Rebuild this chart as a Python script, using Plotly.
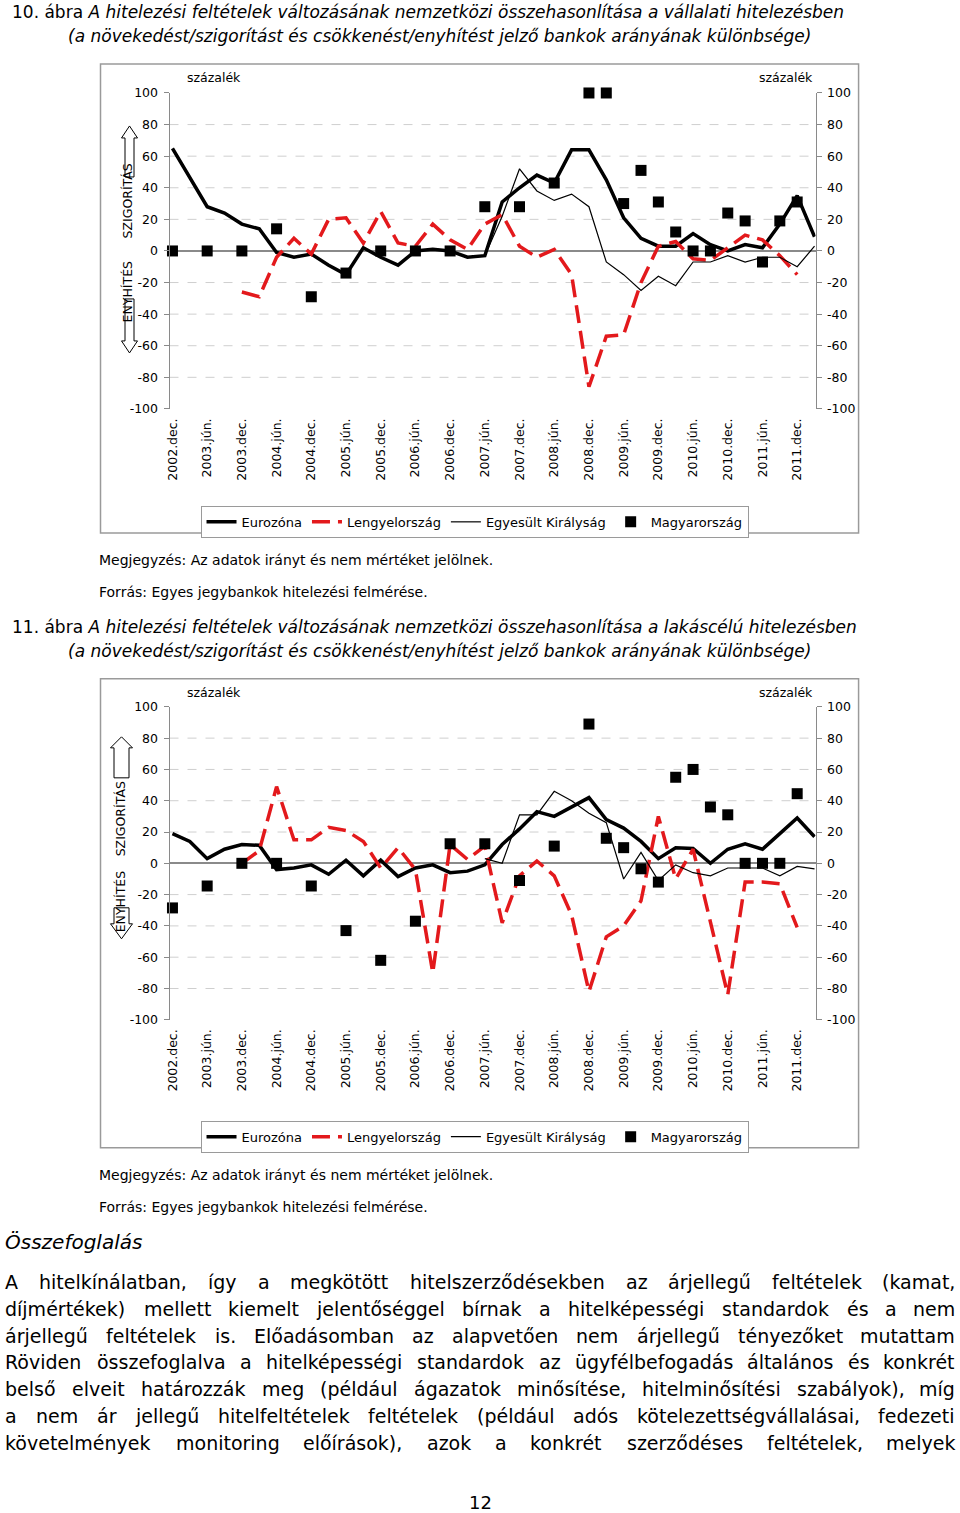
import plotly.graph_objects as go

W, H = 960, 1513

# small calibration of the page placement observed in the rendered picture
OX, SX = 4.5, 0.9947
OY, SY = 7.0, 0.9903


def px(x):
    return ((x - OX) / SX) / W


def py(y):
    return 1 - ((y - OY) / SY) / H


# ---------------- data ----------------
quarters = list(range(38))  # 2002.dec ... 2012.márc (quarterly)
tick_pos = [0, 2, 4, 6, 8, 10, 12, 14, 16, 18, 20, 22, 24, 26, 28, 30, 32, 34, 36]
tick_labels = ["2002.dec.", "2003.jún.", "2003.dec.", "2004.jún.", "2004.dec.",
               "2005.jún.", "2005.dec.", "2006.jún.", "2006.dec.", "2007.jún.",
               "2007.dec.", "2008.jún.", "2008.dec.", "2009.jún.", "2009.dec.",
               "2010.jún.", "2010.dec.", "2011.jún.", "2011.dec."]
y_ticks = [-100, -80, -60, -40, -20, 0, 20, 40, 60, 80, 100]
y_tick_text = ["-100", "-80", "-60", "-40", "-20", "0", "20", "40", "60", "80", "100"]
series_names = ["Eurozóna", "Lengyelország", "Egyesült Királyság", "Magyarország"]

# 10. ábra – vállalati hitelezés
ez1 = [65, 46, 28, 24, 17, 14, -1, -4, -2, -9, -15, 2, -4, -9, 0, 1, 0, -4, -3, 31,
       40, 48, 43, 64, 64, 45, 21, 8, 3, 3, 11, 4, 0, 4, 2, 17, 35, 9]
pl1 = [None, None, None, None, -26, -29, -4, 8, -2, 20, 21, 5, 25, 5, 3, 17, 7, 1, 17, 23,
       3, -4, 1, -15, -86, -54, -53, -20, 3, 6, -5, -6, 2, 10, 7, -3, -15, None]
uk1 = [None] * 18 + [-3, 22, 52, 38, 32, 36, 28, -7, -15, -25, -16, -22, -7, -7, -3, -7,
                     -4, -4, -10, 3]
hu1 = [0, None, 0, None, 0, None, 14, None, -29, None, -14, None, 0, None, 0, None, 0, None,
       28, None, 28, None, 43, None, 100, 100, 30, 51, 31, 12, 0, 0, 24, 19, -7, 19, 31, None]

# 11. ábra – lakáscélú hitelezés
ez2 = [19, 14, 3, 9, 12, 11.5, -4, -3, -1, -7, 2, -8, 2, -8.5, -3, -1, -6, -5, -1, 12,
       22, 33, 30, 36, 42, 28, 22.5, 14, 3, 10, 9.5, 0, 9, 12.5, 9, 19, 29, 17]
pl2 = [None, None, None, None, 0, 8, 49, 15, 15, 23, 21, 14, -3, 10, -4, -70, 12, 2.5, 11,
       -38, -8, 1.5, -8, -33, -82, -47, -40, -24, 30, -10, 9, -37, -84, -12, -12, -13, -41, None]
uk2 = [None] * 18 + [3, 0, 31, 31, 46, 40, 32, 26, -10, 7, -11, -1, -6, -8, -3, -3, -3,
                     -8, -2, -3.5]
hu2 = [-28.5, None, -14.5, None, 0, None, 0, None, -14.5, None, -43, None, -62, None, -37, None,
       12.5, None, 12.5, None, -11, None, 11, None, 89, 16, 10, -3.5, -12, 55, 60, 36, 31,
       0, 0, 0, 44.5, None]

FONT = "DejaVu Sans"
GRID_COLOR = "#cfcfcf"
AXIS_COLOR = "#8a8a8a"
RED = "#E3191C"

fig = go.Figure()

charts = [
    dict(ez=ez1, pl=pl1, uk=uk1, hu=hu1, top=92, bottom=408, box=(63, 532),
         xa="x", ya="y", ya2="y2", legend="legend", legend_y=505,
         arrows=dict(cx=129, up=(125, 137, 176), down=(298, 340, 352), hw=8, sw=4.5),
         txt=dict(x=127, szig=200, enyh=291), szaz_y=77),
    dict(ez=ez2, pl=pl2, uk=uk2, hu=hu2, top=706, bottom=1019, box=(678, 1147),
         xa="x2", ya="y3", ya2="y4", legend="legend2", legend_y=1120,
         arrows=dict(cx=121, up=(736, 747, 777), down=(907, 923, 938), hw=11, sw=7.5),
         txt=dict(x=120, szig=818, enyh=901), szaz_y=692),
]

shapes = []
annotations = []

for c in charts:
    fig.add_trace(go.Scatter(x=quarters, y=c["ez"], mode="lines", name=series_names[0],
                             line=dict(color="black", width=3.5), xaxis=c["xa"], yaxis=c["ya"],
                             legend=c["legend"], connectgaps=False))
    fig.add_trace(go.Scatter(x=quarters, y=c["pl"], mode="lines", name=series_names[1],
                             line=dict(color=RED, width=3.5, dash="18px,8px"),
                             xaxis=c["xa"], yaxis=c["ya"], legend=c["legend"], connectgaps=False))
    fig.add_trace(go.Scatter(x=quarters, y=c["uk"], mode="lines", name=series_names[2],
                             line=dict(color="black", width=1.2), xaxis=c["xa"], yaxis=c["ya"],
                             legend=c["legend"], connectgaps=False))
    fig.add_trace(go.Scatter(x=quarters, y=c["hu"], mode="markers", name=series_names[3],
                             marker=dict(symbol="square", size=11, color="black"),
                             cliponaxis=False,
                             xaxis=c["xa"], yaxis=c["ya"], legend=c["legend"]))
    # invisible trace for the right-hand axis
    fig.add_trace(go.Scatter(x=[0], y=[0], mode="markers", marker=dict(opacity=0),
                             xaxis=c["xa"], yaxis=c["ya2"], showlegend=False, hoverinfo="skip"))

    # dashed grid lines
    yref = c["ya"]
    for v in [-80, -60, -40, -20, 20, 40, 60, 80]:
        shapes.append(dict(type="line", xref=f"{c['xa']} domain", x0=0, x1=1, yref=yref,
                           y0=v, y1=v, line=dict(color=GRID_COLOR, width=1, dash="dash"),
                           layer="below"))
    # outer chart frame
    b0, b1 = c["box"]
    shapes.append(dict(type="rect", xref="paper", yref="paper", x0=px(100), x1=px(858),
                       y0=py(b1), y1=py(b0), line=dict(color="#9a9a9a", width=1.5),
                       layer="below"))
    # arrows
    a = c["arrows"]
    cx, hw, sw = a["cx"], a["hw"], a["sw"]
    t, hb, sb = a["up"]
    pts = [(cx, t), (cx + hw, hb), (cx + sw, hb), (cx + sw, sb), (cx - sw, sb),
           (cx - sw, hb), (cx - hw, hb)]
    path = "M " + " L ".join(f"{px(x):.5f},{py(y):.5f}" for x, y in pts) + " Z"
    shapes.append(dict(type="path", xref="paper", yref="paper", path=path,
                       fillcolor="white", line=dict(color="black", width=1)))
    st, hb, tip = a["down"]
    pts = [(cx - sw, st), (cx + sw, st), (cx + sw, hb), (cx + hw, hb), (cx, tip),
           (cx - hw, hb), (cx - sw, hb)]
    path = "M " + " L ".join(f"{px(x):.5f},{py(y):.5f}" for x, y in pts) + " Z"
    shapes.append(dict(type="path", xref="paper", yref="paper", path=path,
                       fillcolor="white", line=dict(color="black", width=1)))
    tx = c["txt"]
    for label, yy in (("SZIGORÍTÁS", tx["szig"]), ("ENYHÍTÉS", tx["enyh"])):
        annotations.append(dict(text=label, x=px(tx["x"]), y=py(yy), xref="paper",
                                yref="paper", showarrow=False, textangle=-90,
                                xanchor="center", yanchor="middle",
                                font=dict(family=FONT, size=12.5, color="black")))
    for sx in (213, 785):
        annotations.append(dict(text="százalék", x=px(sx), y=py(c["szaz_y"]), xref="paper",
                                yref="paper", showarrow=False, xanchor="center",
                                yanchor="middle",
                                font=dict(family=FONT, size=12.5, color="black")))

# axes
common_y = dict(range=[-100, 100], tickmode="array", tickvals=y_ticks, ticktext=y_tick_text,
                showgrid=False, showline=True, linecolor=AXIS_COLOR, linewidth=1,
                ticks="outside", ticklen=5, tickcolor=AXIS_COLOR, ticklabelstandoff=3,
                tickfont=dict(family=FONT, size=12.5, color="black"), fixedrange=True)
common_x = dict(range=[-0.17, 37.06], tickmode="array", tickvals=tick_pos,
                ticktext=tick_labels, tickangle=-90, showgrid=False, zeroline=False,
                showline=False, ticks="", ticklabelstandoff=6,
                tickfont=dict(family=FONT, size=12.5, color="black"), fixedrange=True)

c1, c2 = charts
fig.update_layout(
    xaxis=dict(common_x, domain=[px(169), px(815)], anchor="y"),
    yaxis=dict(common_y, domain=[py(c1["bottom"]), py(c1["top"])], anchor="x",
               zeroline=True, zerolinecolor=AXIS_COLOR, zerolinewidth=1.5),
    yaxis2=dict(common_y, overlaying="y", side="right", anchor="x", zeroline=False),
    xaxis2=dict(common_x, domain=[px(169), px(815)], anchor="y3"),
    yaxis3=dict(common_y, domain=[py(c2["bottom"]), py(c2["top"])], anchor="x2",
                zeroline=True, zerolinecolor=AXIS_COLOR, zerolinewidth=1.5),
    yaxis4=dict(common_y, overlaying="y3", side="right", anchor="x2", zeroline=False),
)

legend_common = dict(orientation="h", xanchor="left", yanchor="top",
                     bordercolor="#9a9a9a", borderwidth=1, bgcolor="white",
                     font=dict(family=FONT, size=13, color="black"), itemwidth=30,
                     traceorder="normal")
fig.update_layout(
    legend=dict(legend_common, x=px(200), y=py(c1["legend_y"])),
    legend2=dict(legend_common, x=px(200), y=py(c2["legend_y"])),
)


# ---------------- page text ----------------
def add_text(text, x, y, size, xanchor="left", italic=False, family=FONT):
    annotations.append(dict(text=text, x=px(x), y=py(y), xref="paper", yref="paper",
                            showarrow=False, xanchor=xanchor, yanchor="middle",
                            borderpad=0,
                            font=dict(family=family, size=size, color="black",
                                      style="italic" if italic else "normal")))


add_text("10. ábra <i>A hitelezési feltételek változásának nemzetközi összehasonlítása a "
         "vállalati hitelezésben</i>", 10, 11, 17)
add_text("<i>(a növekedést/szigorítást és csökkenést/enyhítést jelző bankok arányának "
         "különbsége)</i>", 66, 35, 17)
add_text("Megjegyzés: Az adatok irányt és nem mértéket jelölnek.", 97, 559, 14)
add_text("Forrás: Egyes jegybankok hitelezési felmérése.", 97, 591, 14)

add_text("11. ábra <i>A hitelezési feltételek változásának nemzetközi összehasonlítása a "
         "lakáscélú hitelezésben</i>", 10, 626, 17)
add_text("<i>(a növekedést/szigorítást és csökkenést/enyhítést jelző bankok arányának "
         "különbsége)</i>", 66, 650, 17)
add_text("Megjegyzés: Az adatok irányt és nem mértéket jelölnek.", 97, 1174, 14)
add_text("Forrás: Egyes jegybankok hitelezési felmérése.", 97, 1206, 14)

add_text("Összefoglalás", 4, 1241, 20, italic=True)

paragraph = [
    "A hitelkínálatban, így a megkötött hitelszerződésekben az árjellegű feltételek (kamat,",
    "díjmértékek) mellett kiemelt jelentőséggel bírnak a hitelképességi standardok és a nem",
    "árjellegű feltételek is. Előadásomban az alapvetően nem árjellegű tényezőket mutattam",
    "Röviden összefoglalva a hitelképességi standardok az ügyfélbefogadás általános és konkrét",
    "belső elveit határozzák meg (például ágazatok minősítése, hitelminősítési szabályok), míg",
    "a nem ár jellegű hitelfeltételek feltételek (például adós kötelezettségvállalásai, fedezeti",
    "követelmények monitoring előírások), azok a konkrét szerződéses feltételek, melyek",
]
para_y = [1281, 1308, 1335, 1361, 1388, 1415, 1442]

# approximate DejaVu Sans advance widths (em) for justification
EM = {" ": .318, "(": .390, ")": .390, ",": .318, ".": .318, "-": .361, "/": .337,
      "A": .684, "R": .695, "E": .632, "Ö": .787,
      "a": .613, "b": .635, "c": .550, "d": .635, "e": .615, "f": .352, "g": .635,
      "h": .634, "i": .278, "j": .278, "k": .579, "l": .278, "m": .974, "n": .634,
      "o": .612, "p": .635, "q": .635, "r": .411, "s": .521, "t": .392, "u": .634,
      "v": .592, "w": .818, "x": .592, "y": .592, "z": .525}
BASE = {"á": "a", "é": "e", "í": "i", "ó": "o", "ö": "o", "ő": "o", "ú": "u", "ü": "u",
        "ű": "u", "Á": "A", "É": "E", "Í": "i", "Ő": "Ö"}


def word_width(w, size):
    return sum(EM.get(BASE.get(ch, ch), 0.6) for ch in w) * size


PSIZE = 19
LEFT, RIGHT = 4, 955
for line, yy in zip(paragraph, para_y):
    words = line.split(" ")
    widths = [word_width(w, PSIZE) for w in words]
    gap = (RIGHT - LEFT - sum(widths)) / (len(words) - 1)
    x = LEFT
    for i, (w, wd) in enumerate(zip(words, widths)):
        if i == len(words) - 1:
            add_text(w, RIGHT, yy, PSIZE, xanchor="right")
        else:
            add_text(w, x, yy, PSIZE)
        x += wd + gap

add_text("12", 480, 1502, 18, xanchor="center")

fig.update_layout(
    width=W, height=H, margin=dict(l=0, r=0, t=0, b=0),
    paper_bgcolor="white", plot_bgcolor="white",
    shapes=shapes, annotations=annotations,
    font=dict(family=FONT, color="black"),
)

fig.write_html("out.html", config={"displayModeBar": False},
               post_script="document.body.style.margin='0';"
                           "document.body.style.overflow='hidden';")
